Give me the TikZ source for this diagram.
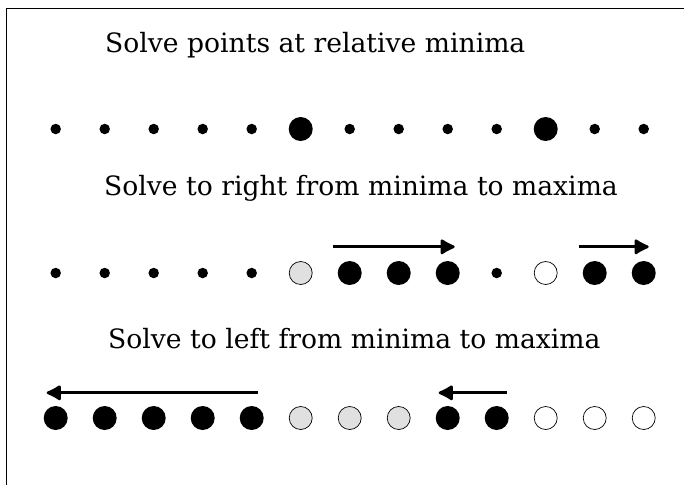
\documentclass[tikz,border=0pt]{standalone}
\usepackage{fontspec}
\setmainfont{DejaVu Serif}
\usetikzlibrary{arrows.meta}
\tikzstyle{dot} = [circle, fill=black, inner sep=0pt, minimum size=10.5pt]
\tikzstyle{solved} = [circle, fill=black, inner sep=0pt, minimum size=24pt]
\tikzstyle{open} = [circle, draw, line width=0.7pt, inner sep=0pt, minimum size=23pt]
\tikzstyle{shaded} = [open, fill=black!12]
\tikzstyle{arrowline} = [line width=2.8pt, -{Latex[length=17pt,width=18pt,round]}]
\tikzstyle{title} = [anchor=west, inner sep=0pt, font=\fontsize{26.6}{30}\selectfont]

\begin{document}
\begin{tikzpicture}[x=1pt, y=-1pt, node distance=49pt]
  \useasboundingbox (0,0) rectangle (684,485);
  \draw[line width=0.9pt] (6,485) -- (6,8) -- (684,8);

  % relative minima
  \node[title] (t1) at (105,45) {Solve points at relative minima};
  \node[dot] (a0) at (55.7,129) {};
  \node[dot, right of=a0] (a1) {};
  \node[dot, right of=a1] (a2) {};
  \node[dot, right of=a2] (a3) {};
  \node[dot, right of=a3] (a4) {};
  \node[solved, right of=a4] (a5) {};
  \node[dot, right of=a5] (a6) {};
  \node[dot, right of=a6] (a7) {};
  \node[dot, right of=a7] (a8) {};
  \node[dot, right of=a8] (a9) {};
  \node[solved, right of=a9] (a10) {};
  \node[dot, right of=a10] (a11) {};
  \node[dot, right of=a11] (a12) {};

  % sweep to the right
  \node[title] (t2) at (104,188) {Solve to right from minima to maxima};
  \node[dot] (b0) at (55.7,273) {};
  \node[dot, right of=b0] (b1) {};
  \node[dot, right of=b1] (b2) {};
  \node[dot, right of=b2] (b3) {};
  \node[dot, right of=b3] (b4) {};
  \node[shaded, right of=b4] (b5) {};
  \node[solved, right of=b5] (b6) {};
  \node[solved, right of=b6] (b7) {};
  \node[solved, right of=b7] (b8) {};
  \node[dot, right of=b8] (b9) {};
  \node[open, right of=b9] (b10) {};
  \node[solved, right of=b10] (b11) {};
  \node[solved, right of=b11] (b12) {};
  \draw[arrowline] ([xshift=-17pt, yshift=14pt]b6.north) -- ([xshift=7pt, yshift=14pt]b8.north);
  \draw[arrowline] ([xshift=-16pt, yshift=14pt]b11.north) -- ([xshift=5pt, yshift=14pt]b12.north);

  % sweep to the left
  \node[title] (t3) at (108,339) {Solve to left from minima to maxima};
  \node[solved] (c0) at (55.7,418) {};
  \node[solved, right of=c0] (c1) {};
  \node[solved, right of=c1] (c2) {};
  \node[solved, right of=c2] (c3) {};
  \node[solved, right of=c3] (c4) {};
  \node[shaded, right of=c4] (c5) {};
  \node[shaded, right of=c5] (c6) {};
  \node[shaded, right of=c6] (c7) {};
  \node[solved, right of=c7] (c8) {};
  \node[solved, right of=c8] (c9) {};
  \node[open, right of=c9] (c10) {};
  \node[open, right of=c10] (c11) {};
  \node[open, right of=c11] (c12) {};
  \draw[arrowline] ([xshift=6pt, yshift=13pt]c4.north) -- ([xshift=-9pt, yshift=13pt]c0.north);
  \draw[arrowline] ([xshift=10pt, yshift=13pt]c9.north) -- ([xshift=-9pt, yshift=13pt]c8.north);
\end{tikzpicture}
\end{document}
